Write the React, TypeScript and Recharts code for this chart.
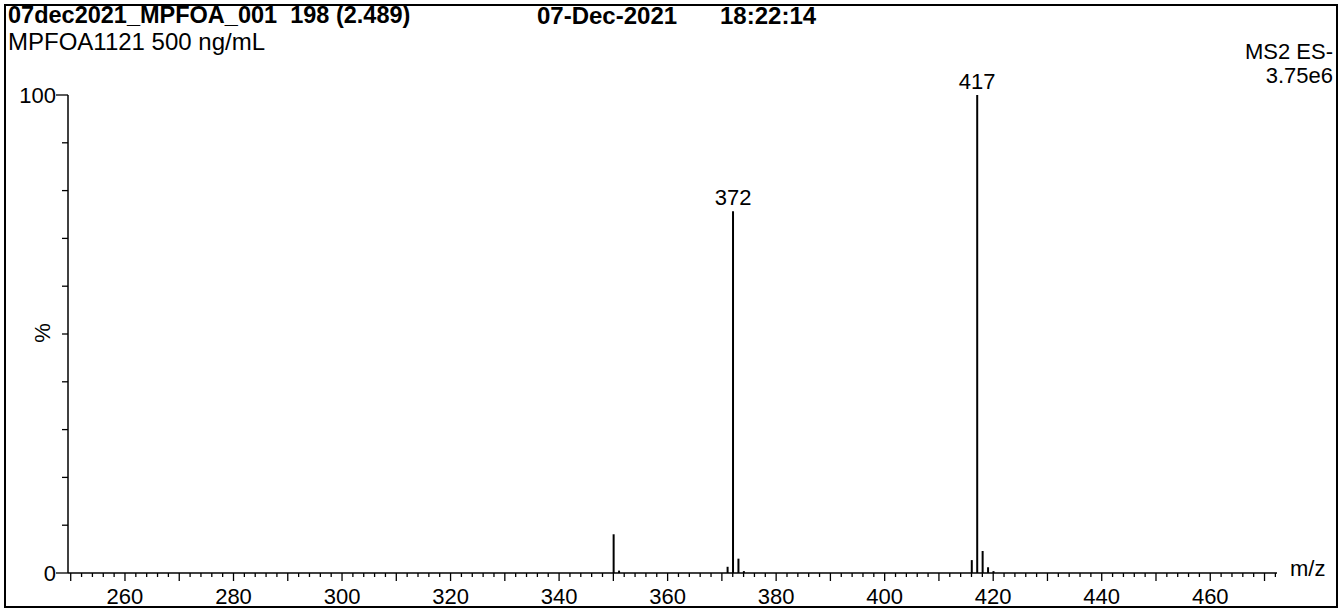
import React from 'react'
import { BarChart, Bar, XAxis, YAxis, LabelList } from 'recharts'

// peak list (m/z, relative intensity %)
const mzValues = [350, 351, 371, 372, 373, 374, 416, 417, 418, 419, 420]
const intensities = [8.1, 0.5, 1.3, 75.7, 3.0, 0.4, 2.7, 100, 4.6, 1.2, 0.4]

const labeledTicks = [260, 280, 300, 320, 340, 360, 380, 400, 420, 440, 460]
const yTicks = [0, 10, 20, 30, 40, 50, 60, 70, 80, 90, 100]
const yLabels = [0, 100]

const xTicks: number[] = []
for (let v = 250; v <= 472; v += 2) xTicks.push(v)

const data = mzValues.map((mz, i) => ({ mz, intensity: intensities[i] }))

const font = '"Liberation Sans", Arial, sans-serif'

const XTick = (props: any) => {
    const { x, y, payload } = props
    const v = payload.value
    const major = v % 10 === 0
    return (
        <g>
            <line x1={x} x2={x} y1={y} y2={y + (major ? 8 : 4)} stroke="#000" strokeWidth={1.3} />
            {labeledTicks.includes(v) && (
                <text x={x} y={y + 31} textAnchor="middle" fontSize={22} fill="#000" fontFamily={font}>
                    {v}
                </text>
            )}
        </g>
    )
}

const YTick = (props: any) => {
    const { x, y, payload } = props
    const v = payload.value
    const labeled = yLabels.includes(v)
    return (
        <g>
            <line x1={x - (labeled ? 12 : 6)} x2={x} y1={y} y2={y} stroke="#000" strokeWidth={1.3} />
            {labeled && (
                <text x={x - 12} y={y + 8} textAnchor="end" fontSize={22} fill="#000" fontFamily={font}>
                    {v}
                </text>
            )}
        </g>
    )
}

const PeakLabel = (props: any) => {
    const { x, y, width, index } = props
    if (intensities[index] < 50) return null
    return (
        <text x={x + width / 2} y={y - 6} textAnchor="middle" fontSize={22} fill="#000" fontFamily={font}>
            {mzValues[index]}
        </text>
    )
}

const txt = (extra: React.CSSProperties): React.CSSProperties => ({
    position: 'absolute',
    fontSize: 22,
    lineHeight: '22px',
    whiteSpace: 'nowrap',
    color: '#000',
    ...extra
})

export default function App() {
    return (
        <div style={{ position: 'absolute', left: 0, top: 0, width: 1341, height: 608, background: '#fff', fontFamily: font }}>
            <div style={{ position: 'absolute', left: 4, top: 4, width: 1330, height: 600, border: '2px solid #000' }} />
            <div style={{ position: 'absolute', left: 0, top: 0 }}>
                <BarChart width={1341} height={608} data={data} margin={{ top: 95, right: 64, bottom: 0, left: 0 }}>
                    <XAxis
                        dataKey="mz"
                        type="number"
                        domain={[249.5, 472.3]}
                        allowDataOverflow
                        ticks={xTicks}
                        interval={0}
                        tick={<XTick />}
                        tickLine={false}
                        tickSize={0}
                        tickMargin={0}
                        height={35}
                        axisLine={{ stroke: '#000', strokeWidth: 1.5 }}
                    />
                    <YAxis
                        type="number"
                        domain={[0, 100]}
                        ticks={yTicks}
                        interval={0}
                        tick={<YTick />}
                        tickLine={false}
                        tickSize={0}
                        tickMargin={0}
                        width={68}
                        axisLine={{ stroke: '#000', strokeWidth: 1.5 }}
                    />
                    <Bar dataKey="intensity" fill="#000" barSize={2} isAnimationActive={false}>
                        <LabelList dataKey="mz" content={<PeakLabel />} />
                    </Bar>
                </BarChart>
            </div>
            <div style={txt({ left: 8, top: 4, fontWeight: 'bold', fontSize: 23.5, lineHeight: '23px' })}>07dec2021_MPFOA_001&nbsp;&nbsp;198 (2.489)</div>
            <div style={txt({ left: 537, top: 4, fontWeight: 'bold', fontSize: 24, lineHeight: '23px' })}>07-Dec-2021</div>
            <div style={txt({ left: 720, top: 4, fontWeight: 'bold', fontSize: 24, lineHeight: '23px' })}>18:22:14</div>
            <div style={txt({ left: 8, top: 30, fontSize: 24, lineHeight: '24px' })}>MPFOA1121 500 ng/mL</div>
            <div style={txt({ right: 1341 - 1333, top: 41, textAlign: 'right' })}>MS2 ES-</div>
            <div style={txt({ right: 1341 - 1333, top: 65, textAlign: 'right' })}>3.75e6</div>
            <div style={txt({ left: 33, top: 322, transform: 'rotate(-90deg)', transformOrigin: 'center' })}>%</div>
            <div style={txt({ left: 1290, top: 558 })}>m/z</div>
        </div>
    )
}
